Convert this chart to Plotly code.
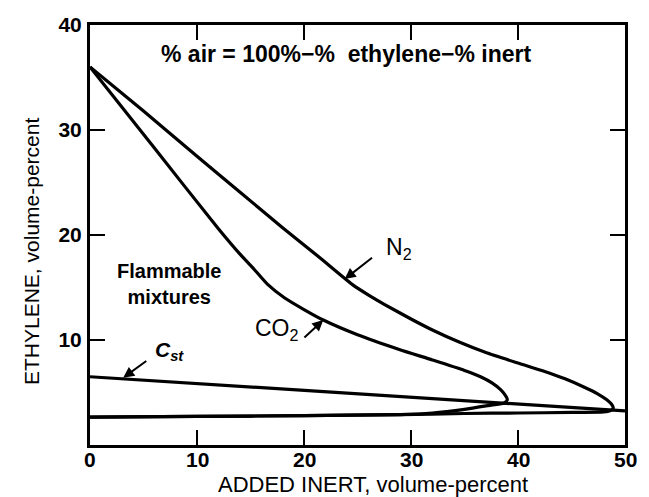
import plotly.graph_objects as go

# N2 boundary: upper limit branch to the nose, then back along the lower limit
n2_x = [0, 5, 10, 14, 18, 21.4, 24.5, 26, 27.5, 30, 32.1, 34.5, 37, 40, 42.5, 44.4, 46.2, 47.4, 48.3, 48.8, 48.9, 48.6, 48.0, 45, 40, 35, 29, 20, 10, 0]
n2_y = [36, 31.8, 27.5, 24.1, 20.7, 17.9, 15.3, 14.3, 13.4, 12.0, 10.9, 9.8, 8.8, 7.8, 7.0, 6.3, 5.5, 4.9, 4.3, 3.8, 3.5, 3.25, 3.15, 3.1, 3.05, 3.0, 2.9, 2.8, 2.72, 2.65]

# CO2 boundary
co2_x = [0, 6, 12, 14, 15.2, 16.6, 18.2, 20, 21.8, 25, 28.9, 32, 35, 36.5, 37.6, 38.4, 38.9, 39.0, 38.7, 37.5, 35, 32, 29, 20, 10, 0]
co2_y = [36, 28.3, 20.6, 18.2, 16.9, 15.3, 14.0, 12.9, 11.9, 10.5, 9.1, 8.1, 7.1, 6.5, 5.9, 5.25, 4.6, 4.3, 4.0, 3.8, 3.4, 3.05, 2.9, 2.8, 2.72, 2.65]

# stoichiometric line
cst_x = [0, 50]
cst_y = [6.5, 3.25]

x_ticks = [0, 10, 20, 30, 40, 50]
y_ticks = [10, 20, 30, 40]

FONT = "Liberation Sans, Arial, sans-serif"
LW = 3.2

fig = go.Figure()
for xs, ys in [(n2_x, n2_y), (co2_x, co2_y), (cst_x, cst_y)]:
    fig.add_trace(go.Scatter(x=xs, y=ys, mode="lines",
                             line=dict(color="black", width=LW, shape="spline", smoothing=0.6),
                             showlegend=False, hoverinfo="skip"))

axis_common = dict(showgrid=False, zeroline=False, showline=True, linecolor="black", linewidth=3,
                   ticks="inside", ticklen=15, tickwidth=2, tickcolor="black", mirror="ticks",
                   automargin=False,
                   tickfont=dict(family=FONT, size=21, color="black", weight="bold"))

fig.update_xaxes(range=[0, 50], tickvals=x_ticks, showticklabels=False, **axis_common)
fig.update_yaxes(range=[0, 40], tickvals=y_ticks, ticktext=[str(v) for v in y_ticks],
                 ticklabelstandoff=1, **axis_common)

ann = []
# x tick labels
for v in x_ticks:
    ann.append(dict(x=v, y=0, xref="x", yref="paper", yanchor="top", yshift=-1,
                    showarrow=False, text=str(v),
                    font=dict(family=FONT, size=21, color="black", weight="bold")))
# top formula text
ann.append(dict(x=23.9, y=37.2, xref="x", yref="y", showarrow=False,
                text="% air = 100%−%  ethylene−% inert",
                font=dict(family=FONT, size=23, color="black", weight="bold")))
ann.append(dict(x=7.4, y=15.3, xref="x", yref="y", showarrow=False,
                text="Flammable<br>mixtures",
                font=dict(family=FONT, size=20, color="black", weight="bold")))
ann.append(dict(x=28.9, y=18.7, xref="x", yref="y", showarrow=False,
                text="N<sub>2</sub>", font=dict(family=FONT, size=23, color="black")))
ann.append(dict(x=17.5, y=11.0, xref="x", yref="y", showarrow=False,
                text="CO<sub>2</sub>", font=dict(family=FONT, size=23, color="black")))
ann.append(dict(x=7.4, y=9.0, xref="x", yref="y", showarrow=False,
                text="<i>C<sub>st</sub></i>", font=dict(family=FONT, size=21, color="black", weight="bold")))
# arrows
for (hx, hy, tx, ty) in [(23.8, 15.8, 26.5, 17.95), (21.8, 11.9, 19.9, 10.1), (3.1, 6.4, 5.4, 8.1)]:
    ann.append(dict(x=hx, y=hy, ax=tx, ay=ty, xref="x", yref="y", axref="x", ayref="y",
                    text="", showarrow=True, arrowhead=2, arrowsize=1.1, arrowwidth=2,
                    arrowcolor="black"))
# axis titles
ann.append(dict(x=(373 - 90) / 535, y=-(484 - 445) / 420, xref="paper", yref="paper", showarrow=False,
                text="ADDED INERT, volume-percent", xanchor="center", yanchor="middle",
                font=dict(family=FONT, size=22, color="black")))
ann.append(dict(x=-59 / 535, y=(445 - 252) / 420, xref="paper", yref="paper", showarrow=False,
                text="ETHYLENE, volume-percent", textangle=-90, xanchor="center", yanchor="middle",
                font=dict(family=FONT, size=21, color="black")))

# page body has an 8px margin, so the figure is shrunk/shifted to compensate
fig.update_layout(width=641, height=489, margin=dict(l=82, r=24, t=17, b=52),
                  paper_bgcolor="white", plot_bgcolor="white", annotations=ann)

fig.write_html("out.html")
